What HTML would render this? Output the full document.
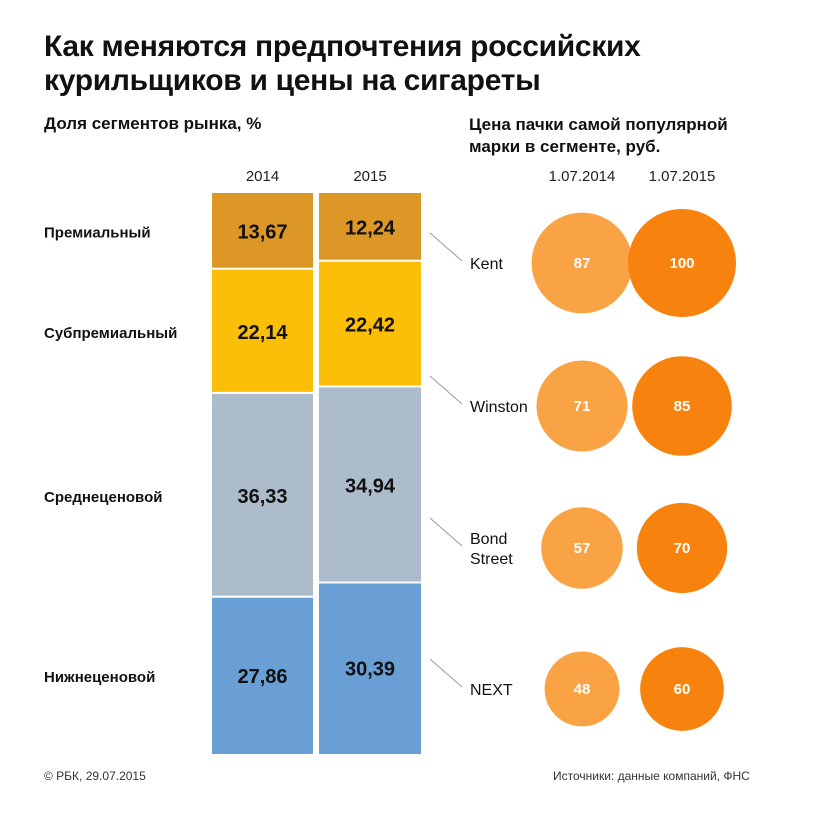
<!DOCTYPE html>
<html><head><meta charset="utf-8"><style>
body{margin:0;background:#fff;font-family:"Liberation Sans",sans-serif;}
#root{position:relative;width:828px;height:822px;overflow:hidden;}
.t{position:absolute;color:#111;white-space:nowrap;}
</style></head><body>
<div id="root">
<div class="t" style="left:44px;top:30px;font-size:30px;font-weight:bold;line-height:34px;letter-spacing:-0.3px">Как меняются предпочтения российских<br>курильщиков и цены на сигареты</div>
<div class="t" style="left:44px;top:114px;font-size:17px;font-weight:bold">Доля сегментов рынка, %</div>
<div class="t" style="left:469px;top:114px;font-size:17px;font-weight:bold;line-height:22px">Цена пачки самой популярной<br>марки в сегменте, руб.</div>
<svg id="chart" width="828" height="822" style="position:absolute;left:0;top:0"></svg>
<div class="t" style="left:44px;top:769px;font-size:12px;color:#333">© РБК, 29.07.2015</div>
<div class="t" style="left:553px;top:769px;font-size:12px;color:#333">Источники: данные компаний, ФНС</div>
</div>
<script>
const years=["2014","2015"];
const segments=["Премиальный","Субпремиальный","Среднеценовой","Нижнеценовой"];
const share2014=[13.67,22.14,36.33,27.86];
const share2015=[12.24,22.42,34.94,30.39];
const brands=["Kent","Winston","Bond|Street","NEXT"];
const dates=["1.07.2014","1.07.2015"];
const price2014=[87,71,57,48];
const price2015=[100,85,70,60];
const colors=["#DD9727","#FCBF07","#ADBCCB","#6A9FD6"];
const svg=document.getElementById('chart');
const NS="http://www.w3.org/2000/svg";
function mk(tag,at,txt){const e=document.createElementNS(NS,tag);for(const k in at)e.setAttribute(k,at[k]);if(txt!=null)e.textContent=txt;svg.appendChild(e);return e;}
const top0=193,bot=754,H=bot-top0;
const colX=[212,319],colW=[101,102];
const y=v=>v/100*H;
[share2014,share2015].forEach((arr,ci)=>{
  const yt=mk('text',{x:colX[ci]+colW[ci]/2,y:181,'text-anchor':'middle','font-size':15,fill:'#222','font-family':'Liberation Sans'},years[ci]);
  
  const tot=arr.reduce((a,b)=>a+b,0);let cy=top0;
  arr.forEach((v,i)=>{
    const h=v/tot*H;
    const r=mk('rect',{x:colX[ci],y:cy,width:colW[ci],height:Math.max(0,h-(i<3?2:0)),fill:colors[i]});
    
    const t=mk('text',{x:colX[ci]+colW[ci]/2,y:cy+h/2+7,'text-anchor':'middle','font-size':20,'font-weight':'bold',fill:'#111','font-family':'Liberation Sans'},v.toFixed(2).replace('.',','));
    
    if(ci===0){
      const l=mk('text',{x:44,y:cy+h/2+6,'font-size':15,'font-weight':'bold',fill:'#111','font-family':'Liberation Sans'},segments[i]);
      
    }
    cy+=h;
  });
});
const rowY=[263,406,548,689];
const cx=[582,682];const K=5.4;
dates.forEach((d,i)=>{const t=mk('text',{x:cx[i],y:181,'text-anchor':'middle','font-size':15,fill:'#222','font-family':'Liberation Sans'},d);
});
brands.forEach((b,i)=>{
  const ry=rowY[i];
  const ln=mk('line',{x1:430,y1:ry-30,x2:462,y2:ry-2,stroke:'#999','stroke-width':1});
  
  const parts=b.split('|');
  parts.forEach((p,k)=>{const t=mk('text',{x:470,y:ry+6+(k-(parts.length-1)/2)*20,'font-size':16,fill:'#111','font-family':'Liberation Sans'},p);
  });
  [[price2014,'#F9A345'],[price2015,'#F7820D']].forEach(([arr,c],j)=>{
    const v=arr[i];
    const ci=mk('circle',{cx:cx[j],cy:ry,r:K*Math.sqrt(v),fill:c});
    
    const t=mk('text',{x:cx[j],y:ry+5,'text-anchor':'middle','font-size':15,'font-weight':'bold',fill:'#fff','font-family':'Liberation Sans'},String(v));
    
  });
});
</script>
</body></html>
